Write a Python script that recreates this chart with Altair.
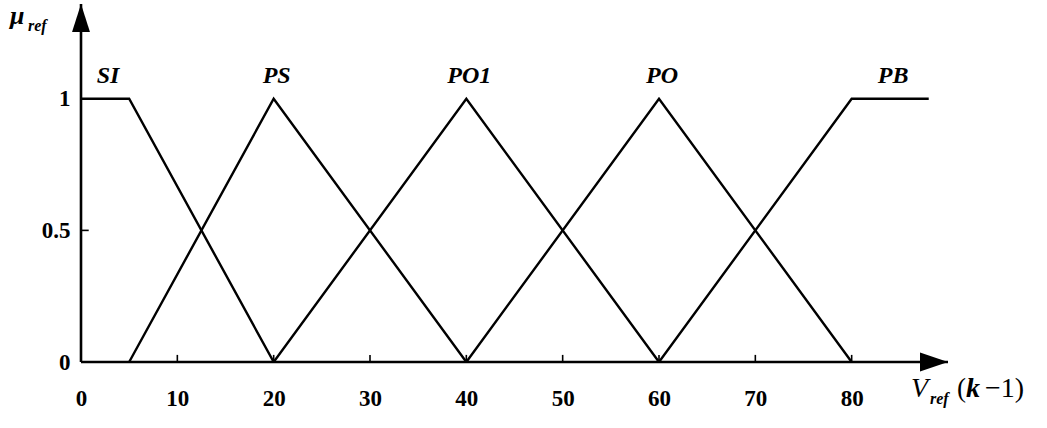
import altair as alt
import pandas as pd

# Membership functions of the reference-speed fuzzy sets (breakpoints x, degree mu)
si_x, si_mu = [0, 5, 20], [1, 1, 0]
ps_x, ps_mu = [5, 20, 40], [0, 1, 0]
po1_x, po1_mu = [20, 40, 60], [0, 1, 0]
po_x, po_mu = [40, 60, 80], [0, 1, 0]
pb_x, pb_mu = [60, 80, 88], [0, 1, 1]

set_names = ["SI", "PS", "PO1", "PO", "PB"]
set_points = [(si_x, si_mu), (ps_x, ps_mu), (po1_x, po1_mu), (po_x, po_mu), (pb_x, pb_mu)]

x_labels = [0, 10, 20, 30, 40, 50, 60, 70, 80]
y_labels = [0, 0.5, 1]
x_minor = [10, 20, 30, 40, 50, 60, 70, 80]
y_minor = [0.5]

X_MAX, Y_MAX = 90, 1.36
SERIF = "Liberation Serif"

rows = []
labels = []
for name, (xs, mus) in zip(set_names, set_points):
    for i, (xv, mv) in enumerate(zip(xs, mus)):
        rows.append({"set": name, "x": xv, "mu": mv, "i": i})
    plateau = [xv for xv, mv in zip(xs, mus) if mv == 1]
    labels.append({"set": name, "x": sum(plateau) / len(plateau), "mu": 1})
df = pd.DataFrame(rows)
lab = pd.DataFrame(labels)

x_scale = alt.Scale(domain=[0, X_MAX], nice=False, zero=False)
y_scale = alt.Scale(domain=[0, Y_MAX], nice=False, zero=False)

x_axis = alt.Axis(values=x_labels, title=None, domain=False, ticks=False, grid=False,
                  labelFont=SERIF, labelFontWeight="bold", labelFontSize=23,
                  labelColor="black", labelBaseline="alphabetic", labelPadding=43,
                  labelFlush=False)
y_axis = alt.Axis(values=y_labels, title=None, domain=False, ticks=False, grid=False,
                  format="~g", labelFont=SERIF, labelFontWeight="bold", labelFontSize=23,
                  labelColor="black", labelPadding=11)

lines = alt.Chart(df).mark_line(color="black", strokeWidth=2.4).encode(
    x=alt.X("x:Q", scale=x_scale, axis=x_axis),
    y=alt.Y("mu:Q", scale=y_scale, axis=y_axis),
    detail="set:N",
    order="i:Q",
)

set_text = alt.Chart(lab).mark_text(
    font=SERIF, fontSize=24, fontWeight="bold", fontStyle="italic",
    color="black", baseline="middle", dy=-23, dx=3,
).encode(x=alt.X("x:Q", scale=x_scale), y=alt.Y("mu:Q", scale=y_scale), text="set:N")

# Axis lines with arrow heads
x_line = alt.Chart(pd.DataFrame({"a": [0], "b": [X_MAX], "y": [0]})).mark_rule(
    color="black", strokeWidth=2.6).encode(
    x=alt.X("a:Q", scale=x_scale), x2="b:Q", y=alt.Y("y:Q", scale=y_scale))
y_line = alt.Chart(pd.DataFrame({"x": [0], "a": [0], "b": [Y_MAX]})).mark_rule(
    color="black", strokeWidth=2.6).encode(
    x=alt.X("x:Q", scale=x_scale), y=alt.Y("a:Q", scale=y_scale), y2="b:Q")

x_arrow = alt.Chart(pd.DataFrame({"x": [X_MAX], "y": [0]})).mark_point(
    shape="M0,0L-2,-0.68L-2,0.68Z", size=784, filled=True, color="black", opacity=1
).encode(x=alt.X("x:Q", scale=x_scale), y=alt.Y("y:Q", scale=y_scale))
y_arrow = alt.Chart(pd.DataFrame({"x": [0], "y": [Y_MAX]})).mark_point(
    shape="M0,0L0.64,2L-0.64,2Z", size=784, filled=True, color="black", opacity=1
).encode(x=alt.X("x:Q", scale=x_scale), y=alt.Y("y:Q", scale=y_scale))

# Short inward tick marks
x_ticks = alt.Chart(pd.DataFrame({"x": x_minor, "a": 0, "b": 0.027})).mark_rule(
    color="black", strokeWidth=1.6).encode(
    x=alt.X("x:Q", scale=x_scale), y=alt.Y("a:Q", scale=y_scale), y2="b:Q")
y_ticks = alt.Chart(pd.DataFrame({"y": y_minor, "a": 0, "b": 0.8})).mark_rule(
    color="black", strokeWidth=1.6).encode(
    y=alt.Y("y:Q", scale=y_scale), x=alt.X("a:Q", scale=x_scale), x2="b:Q")


def piece(text, px, py, size, weight="normal", style="normal"):
    return alt.Chart(pd.DataFrame({"t": [text]})).mark_text(
        font=SERIF, fontSize=size, fontWeight=weight, fontStyle=style,
        color="black", align="left", baseline="alphabetic",
    ).encode(x=alt.value(px), y=alt.value(py), text="t:N")


# Axis titles: mu_ref and V_ref(k-1)
titles = [
    piece("μ", -71, 20, 26, "bold", "italic"),
    piece("ref", -53, 27, 16, "bold", "italic"),
    piece("V", 830, 393, 28, "normal", "italic"),
    piece("ref", 849, 400, 16, "bold", "italic"),
    piece("(", 876, 393, 27),
    piece("k", 885, 393, 28, "bold", "italic"),
    piece("−1)", 904, 393, 28),
]

chart = alt.layer(
    x_line, y_line, x_ticks, y_ticks, lines, set_text, x_arrow, y_arrow, *titles
).properties(
    width=867, height=358,
    background="white",
    autosize=alt.AutoSizeParams(type="none"),
    padding={"left": 81, "top": 4, "right": 99, "bottom": 66},
).configure_view(stroke="transparent")

chart.save("out.html", embed_options={"renderer": "svg", "actions": False})
